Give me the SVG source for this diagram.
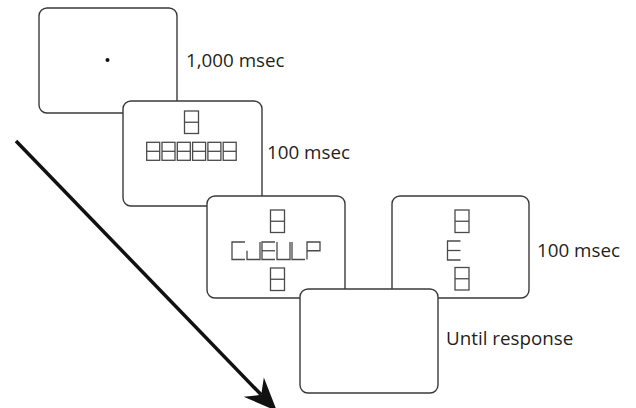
<svg xmlns="http://www.w3.org/2000/svg" xmlns:xlink="http://www.w3.org/1999/xlink" width="636" height="408" viewBox="0 0 636 408">
  <style>
    .screen { fill: #ffffff; stroke: #3a3a3a; stroke-width: 1.4; }
    .seg { fill: none; stroke: #4a4a4a; stroke-width: 1.3; stroke-linejoin: miter; }
    .lbl { font-family: "Open Sans", "Liberation Sans", sans-serif; font-size: 18.8px; fill: #231f20; }
    .arrow { stroke: #111111; stroke-width: 3.5; fill: none; }
  </style>
  <defs>
    <marker id="head" markerUnits="userSpaceOnUse" markerWidth="40" markerHeight="40" viewBox="-10 -12 30 24" refX="0" refY="0" orient="auto" overflow="visible">
      <path d="M17,0 L-8,-10.5 L0,0 L-8,10.5 Z" fill="#111111"/>
    </marker>
    <g id="big8" class="seg"><rect x="0" y="0" width="14" height="22.5"/><line x1="0" y1="11.25" x2="14" y2="11.25"/></g>
    <g id="sm8" class="seg"><rect x="0" y="0" width="13" height="18"/><line x1="0" y1="9" x2="13" y2="9"/></g>
    <polyline id="gC" class="seg" points="13,0 0,0 0,17.5 13,17.5"/>
    <polyline id="gJ" class="seg" points="13,0 13,17.5 0,17.5 0,8.75"/>
    <g id="gE" class="seg"><polyline points="13,0 0,0 0,17.5 13,17.5"/><line x1="0" y1="8.75" x2="13" y2="8.75"/></g>
    <polyline id="gU" class="seg" points="0,0 0,17.5 13,17.5 13,0"/>
    <polyline id="gL" class="seg" points="0,0 0,17.5 13,17.5"/>
    <polyline id="gP" class="seg" points="0,17.5 0,0 13,0 13,8.75 0,8.75"/>
  </defs>

  <g id="screen1">
    <rect class="screen" x="39" y="8" width="138" height="105" rx="8"/>
    <circle cx="107.5" cy="60" r="2" fill="#111111"/>
    <text class="lbl" x="186" y="66.5">1,000 msec</text>
  </g>

  <g id="screen2">
    <rect class="screen" x="123" y="101" width="139" height="105" rx="8"/>
    <use xlink:href="#big8" x="184.5" y="111"/>
    <use xlink:href="#sm8" x="146.7" y="142.3"/>
    <use xlink:href="#sm8" x="162" y="142.3"/>
    <use xlink:href="#sm8" x="177.3" y="142.3"/>
    <use xlink:href="#sm8" x="192.6" y="142.3"/>
    <use xlink:href="#sm8" x="207.9" y="142.3"/>
    <use xlink:href="#sm8" x="223.2" y="142.3"/>
    <text class="lbl" x="267" y="159">100 msec</text>
  </g>

  <g id="screen3">
    <rect class="screen" x="207" y="196" width="138" height="102" rx="8"/>
    <use xlink:href="#big8" x="270.5" y="210"/>
    <use xlink:href="#gC" x="232" y="242"/>
    <use xlink:href="#gJ" x="247" y="242"/>
    <use xlink:href="#gE" x="262" y="242"/>
    <use xlink:href="#gU" x="277" y="242"/>
    <use xlink:href="#gL" x="292" y="242"/>
    <use xlink:href="#gP" x="307" y="242"/>
    <use xlink:href="#big8" x="270.5" y="268"/>
  </g>

  <g id="screen4">
    <rect class="screen" x="392" y="196" width="137" height="102" rx="8"/>
    <use xlink:href="#big8" x="455" y="210"/>
    <g class="seg">
      <polyline points="460.5,241 447.5,241 447.5,260 460.5,260"/>
      <line x1="447.5" y1="250.5" x2="460.5" y2="250.5"/>
    </g>
    <use xlink:href="#big8" x="455" y="267.5"/>
    <text class="lbl" x="537" y="257.3">100 msec</text>
  </g>

  <g id="screen5">
    <rect class="screen" x="300" y="289" width="138" height="104" rx="8"/>
    <text class="lbl" x="446" y="345">Until response</text>
  </g>

  <g id="connectors">
    <line class="arrow" x1="16" y1="141" x2="261.2" y2="394.8" marker-end="url(#head)"/>
  </g>
</svg>
